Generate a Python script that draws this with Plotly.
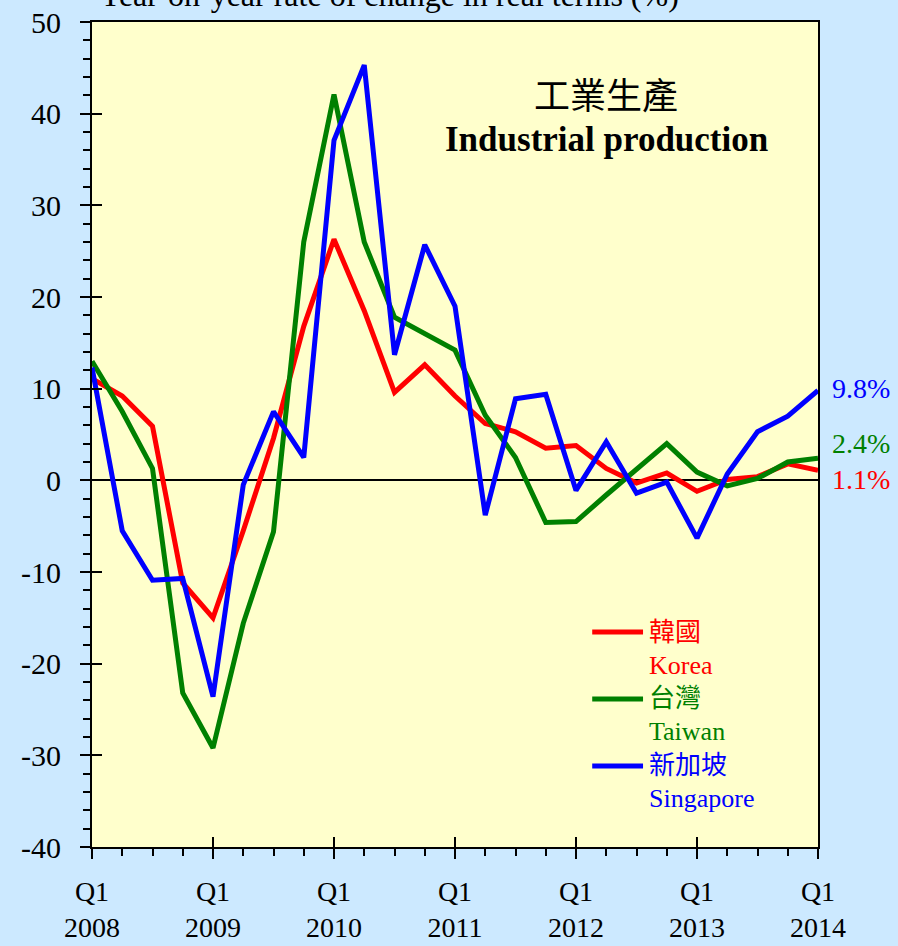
import plotly.graph_objects as go

# ---------------- data ----------------
quarters = list(range(25))  # Q1 2008 ... Q1 2014
x_tick_vals = [0, 4, 8, 12, 16, 20, 24]
x_tick_text = ["Q1<br>2008", "Q1<br>2009", "Q1<br>2010", "Q1<br>2011",
               "Q1<br>2012", "Q1<br>2013", "Q1<br>2014"]
y_tick_vals = [-40, -30, -20, -10, 0, 10, 20, 30, 40, 50]
y_tick_text = ["-40", "-30", "-20", "-10", "0", "10", "20", "30", "40", "50"]

korea = [11.1, 9.2, 5.9, -11.2, -15.0, -5.5, 4.6, 16.8, 26.3, 18.5, 9.6, 12.6, 9.2,
         6.2, 5.3, 3.5, 3.8, 1.3, -0.3, 0.8, -1.2, 0.1, 0.4, 1.8, 1.1]
taiwan = [13.0, 7.5, 1.3, -23.2, -29.2, -15.6, -5.6, 26.0, 42.1, 26.0, 17.8, 16.0, 14.2,
          7.1, 2.5, -4.6, -4.5, -1.6, 1.2, 4.0, 0.9, -0.6, 0.2, 2.0, 2.4]
singapore = [12.3, -5.5, -10.9, -10.7, -23.6, -0.5, 7.5, 2.5, 37.1, 45.3, 13.7, 25.7, 19.0,
             -3.8, 8.9, 9.4, -1.1, 4.2, -1.4, -0.2, -6.3, 0.7, 5.3, 7.0, 9.8]

series_values = [korea, taiwan, singapore]
series_zh = ["韓國", "台灣", "新加坡"]
series_en = ["Korea", "Taiwan", "Singapore"]
series_colors = ["#FF0000", "#008000", "#0000FF"]
end_labels = ["1.1%", "2.4%", "9.8%"]
end_label_shift = [-9, 15, 2]

FONT = "Liberation Serif, Times New Roman, Noto Sans CJK TC, serif"

fig = go.Figure()
for vals, name, col in zip(series_values, series_en, series_colors):
    fig.add_trace(go.Scatter(x=quarters, y=vals, mode="lines", name=name,
                             line=dict(color=col, width=5), showlegend=False))

# invisible trace for overlay axes (inside half of crossing major ticks)
fig.add_trace(go.Scatter(x=[0, 24], y=[-40, 50], xaxis="x2", yaxis="y2",
                         mode="lines", line=dict(width=0), opacity=0,
                         showlegend=False, hoverinfo="skip"))

fig.update_layout(
    width=898, height=946,
    paper_bgcolor="#CCE9FF", plot_bgcolor="#FFFFCC",
    margin=dict(l=92, r=80, t=22, b=99, autoexpand=False),
    font=dict(family=FONT, color="black", size=28),
    xaxis=dict(range=[0, 24], tickmode="array", tickvals=x_tick_vals, ticktext=x_tick_text,
               ticks="outside", ticklen=10, tickwidth=2, tickcolor="black",
               minor=dict(tickmode="linear", tick0=0, dtick=1, ticks="outside",
                          ticklen=7, tickwidth=1.5, tickcolor="black", showgrid=False),
               showline=True, linecolor="black", linewidth=2, mirror=True,
               showgrid=False, zeroline=False, automargin=False,
               tickfont=dict(size=28, family=FONT), ticklabelstandoff=8),
    yaxis=dict(range=[-40, 50], tickmode="array", tickvals=y_tick_vals, ticktext=y_tick_text,
               ticks="outside", ticklen=10, tickwidth=2, tickcolor="black",
               minor=dict(tickmode="linear", tick0=0, dtick=2, ticks="outside",
                          ticklen=7, tickwidth=1.5, tickcolor="black", showgrid=False),
               showline=True, linecolor="black", linewidth=2, mirror=True,
               showgrid=False, zeroline=True, zerolinecolor="black", zerolinewidth=2,
               automargin=False,
               tickfont=dict(size=30, family=FONT), ticklabelstandoff=13),
    xaxis2=dict(overlaying="x", anchor="y", range=[0, 24], tickmode="array",
                tickvals=x_tick_vals, showticklabels=False, ticks="inside", ticklen=10,
                tickwidth=2, tickcolor="black", showline=False, showgrid=False,
                zeroline=False, automargin=False),
    yaxis2=dict(overlaying="y", anchor="x", side="left", range=[-40, 50], tickmode="array",
                tickvals=y_tick_vals, showticklabels=False, ticks="inside", ticklen=10,
                tickwidth=2, tickcolor="black", showline=False, showgrid=False,
                zeroline=False, automargin=False),
)

# titles
fig.add_annotation(text="Year-on-year rate of change in real terms (%)", xref="paper", yref="paper",
                   x=0.409, y=1.0085, xanchor="center", yanchor="bottom", showarrow=False,
                   font=dict(size=32, family=FONT))
fig.add_annotation(text="工業生產", xref="paper", yref="paper", x=0.708, y=0.909,
                   xanchor="center", yanchor="middle", showarrow=False,
                   font=dict(size=36, family=FONT))
fig.add_annotation(text="<b>Industrial production</b>", xref="paper", yref="paper", x=0.708,
                   y=0.8573, xanchor="center", yanchor="middle", showarrow=False,
                   font=dict(size=35, family=FONT))

# end labels
for vals, lab, col, sh in zip(series_values, end_labels, series_colors, end_label_shift):
    fig.add_annotation(text=lab, xref="paper", yref="y", x=1.016, y=vals[-1], yshift=sh,
                       xanchor="left", yanchor="middle", showarrow=False,
                       font=dict(size=28, family=FONT, color=col))

# custom legend
leg_x0, leg_x1, leg_text_x = 0.689, 0.759, 0.764
leg_y_top, entry_gap, line_gap = 0.2606, 0.0812, 0.0400
for i, (zh, en, col) in enumerate(zip(series_zh, series_en, series_colors)):
    yy = leg_y_top - i * entry_gap
    fig.add_shape(type="line", xref="paper", yref="paper", x0=leg_x0, x1=leg_x1, y0=yy, y1=yy,
                  line=dict(color=col, width=5))
    fig.add_annotation(text=zh, xref="paper", yref="paper", x=leg_text_x, y=yy,
                       xanchor="left", yanchor="middle", showarrow=False,
                       font=dict(size=26, family=FONT, color=col))
    fig.add_annotation(text=en, xref="paper", yref="paper", x=leg_text_x, y=yy - line_gap,
                       xanchor="left", yanchor="middle", showarrow=False,
                       font=dict(size=26, family=FONT, color=col))

fig.write_html("out.html", config={"displayModeBar": False},
               post_script="document.body.style.margin='0';")
